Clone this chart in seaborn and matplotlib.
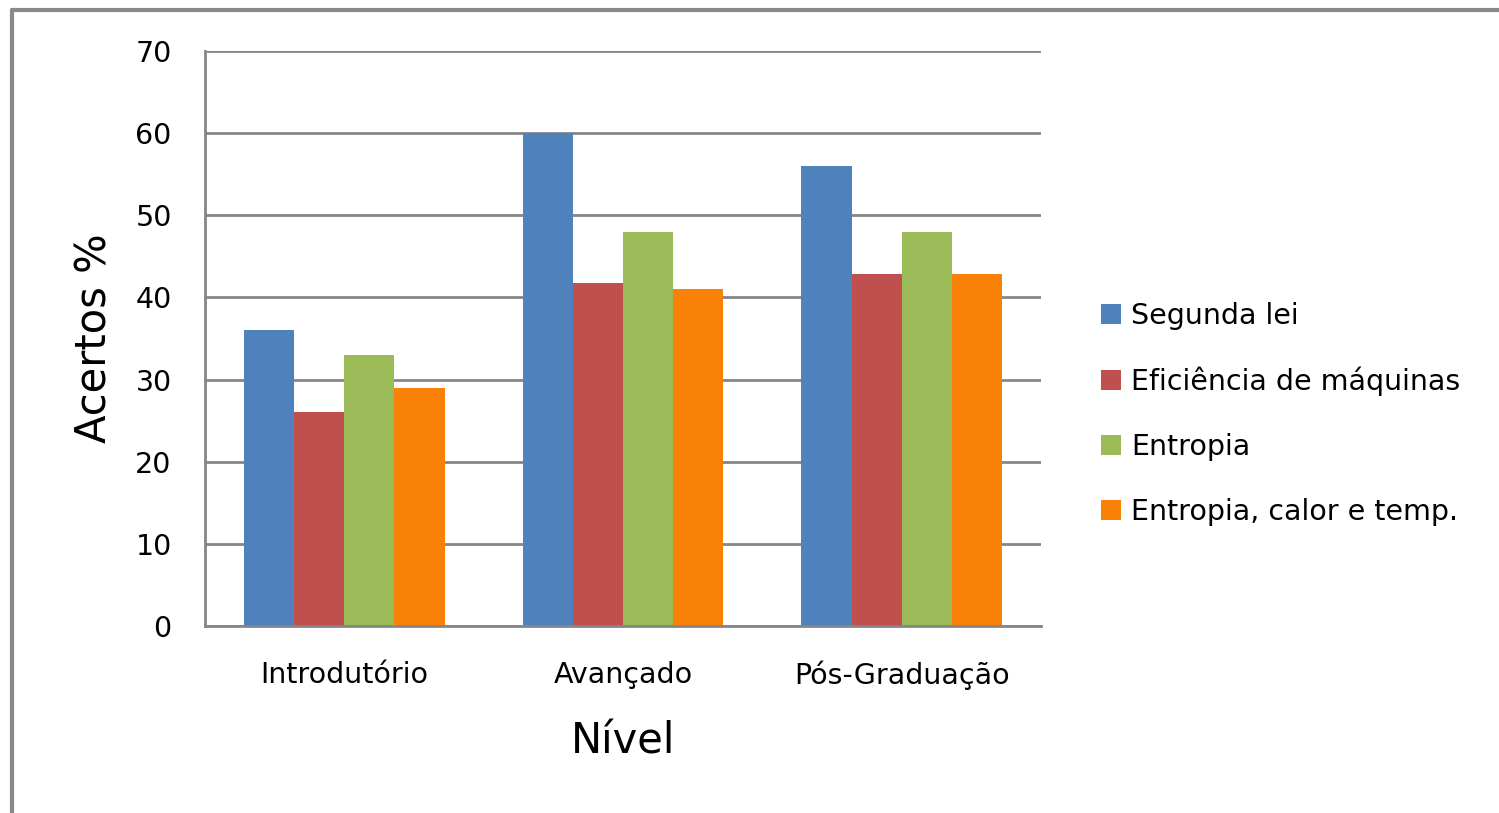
import matplotlib
matplotlib.use("Agg")
import matplotlib.pyplot as plt
import seaborn as sns
import pandas as pd
from matplotlib.lines import Line2D

categories = ["Introdutório", "Avançado", "Pós-Graduação"]
series_names = ["Segunda lei", "Eficiência de máquinas", "Entropia", "Entropia, calor e temp."]
segunda_lei = [36, 60, 56]
eficiencia = [26, 41.7, 42.8]
entropia = [33, 48, 48]
entropia_calor = [29, 41, 42.8]
y_ticks = [0, 10, 20, 30, 40, 50, 60, 70]

colors = ["#4F81BD", "#C0504D", "#9BBB59", "#F98108"]

rows = []
for name, vals in zip(series_names, [segunda_lei, eficiencia, entropia, entropia_calor]):
    for c, v in zip(categories, vals):
        rows.append({"Nível": c, "Acertos": v, "Série": name})
df = pd.DataFrame(rows)

sns.set_theme(style="white")
plt.rcParams["font.family"] = ["DejaVu Sans"]
plt.rcParams["text.color"] = "black"
plt.rcParams["axes.labelcolor"] = "black"
plt.rcParams["xtick.color"] = "black"
plt.rcParams["ytick.color"] = "black"

W, H = 1499, 813
fig = plt.figure(figsize=(W / 100, H / 100), dpi=100)
ax = fig.add_axes([205 / W, 1 - 626 / H, (1041 - 205) / W, (626 - 51) / H])

sns.barplot(data=df, x="Nível", y="Acertos", hue="Série", order=categories,
            hue_order=series_names, palette=colors, width=0.72, gap=0,
            saturation=1, ax=ax, linewidth=0, edgecolor="none")

ax.set_ylim(0, 70)
ax.set_xlim(-0.5, 2.5)
ax.set_yticks(y_ticks)
ax.set_yticklabels([str(t) for t in y_ticks], fontsize=20.5)
ax.tick_params(axis="y", length=12, width=2, color="#868686", labelcolor="black",
               pad=12, labelsize=20.5)
ax.tick_params(axis="x", length=0, pad=25, labelsize=20.5, labelcolor="black")
ax.yaxis.grid(True, color="#868686", linewidth=2)
ax.set_axisbelow(True)
for s in ["top", "right"]:
    ax.spines[s].set_visible(False)
for s in ["left", "bottom"]:
    ax.spines[s].set_color("#868686")
    ax.spines[s].set_linewidth(2)
ax.set_xlabel("Nível", fontsize=30, labelpad=22, color="black")
ax.set_ylabel("Acertos %", fontsize=30, labelpad=14, color="black")

handles, labels = ax.get_legend_handles_labels()
leg = ax.legend(handles, labels, loc="center left",
                bbox_to_anchor=(1101 / W, 1 - 414 / H), bbox_transform=fig.transFigure,
                frameon=False, fontsize=20.5, handlelength=0.7, handleheight=0.7,
                handletextpad=0.35, labelspacing=1.3, borderpad=0, borderaxespad=0)
for t in leg.get_texts():
    t.set_color("black")

# outer chart border (top and left visible)
fig.add_artist(Line2D([12 / W, 12 / W], [0, 1 - 10 / H], transform=fig.transFigure,
                      color="#898989", linewidth=3))
fig.add_artist(Line2D([12 / W, 1], [1 - 10 / H, 1 - 10 / H], transform=fig.transFigure,
                      color="#898989", linewidth=3))

fig.savefig("out.png", dpi=100, facecolor="white")
